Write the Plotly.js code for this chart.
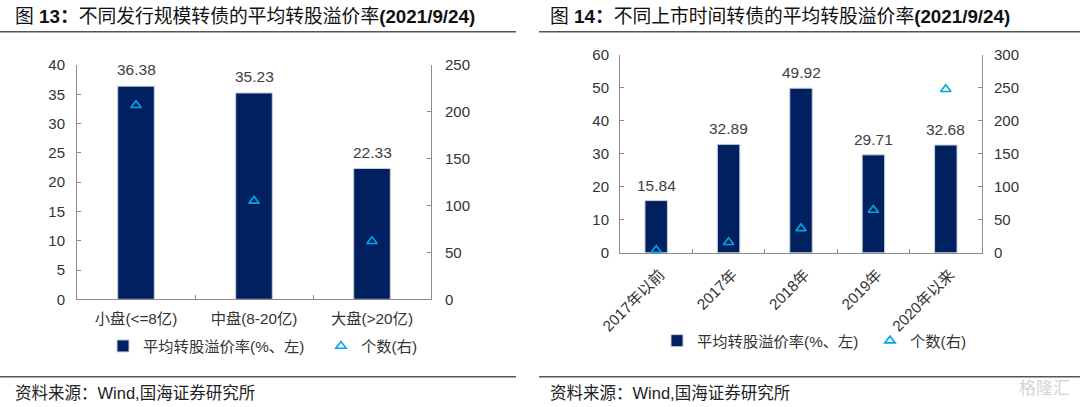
<!DOCTYPE html>
<html>
<head>
<meta charset="utf-8">
<script src="https://cdn.plot.ly/plotly-3.0.1.min.js"></script>
<style>
html,body{margin:0;padding:0;background:#fff;}
#chart{width:1080px;height:407px;}
</style>
</head>
<body>
<div id="chart"></div>
<script>
// Chart 13 data
var sizeCategories = ['小盘(<=8亿)', '中盘(8-20亿)', '大盘(>20亿)'];
var sizePremium = [36.38, 35.23, 22.33];
var sizeCount = [207, 105, 62];

// Chart 14 data
var yearCategories = ['2017年以前', '2017年', '2018年', '2019年', '2020年以来'];
var yearPremium = [15.84, 32.89, 49.92, 29.71, 32.68];
var yearCount = [4, 16, 37, 65, 248];

var barName = '平均转股溢价率(%、左)';
var triName = '个数(右)';

var FONT = 'Liberation Sans, Arial, Noto Sans CJK SC, sans-serif';
var NAVY = '#002060';
var CYAN = '#00A6E6';
var TXT = '#333333';
var AX = '#8c8c8c';

function fmt(v){ return v.toFixed(2); }

var traces = [
  {
    type: 'bar', x: sizeCategories, y: sizePremium, xaxis: 'x', yaxis: 'y',
    name: barName, width: 0.31,
    marker: {color: NAVY, line: {color: '#c8cfdc', width: 1}},
    legend: 'legend'
  },
  {
    type: 'scatter', mode: 'markers', x: sizeCategories, y: sizeCount, xaxis: 'x', yaxis: 'y2',
    name: triName, cliponaxis: false,
    marker: {symbol: 'triangle-up-open', size: 9, color: CYAN, line: {color: CYAN, width: 1.6}},
    legend: 'legend'
  },
  {
    type: 'bar', x: yearCategories, y: yearPremium, xaxis: 'x2', yaxis: 'y3',
    name: barName, width: 0.31,
    marker: {color: NAVY, line: {color: '#c8cfdc', width: 1}},
    legend: 'legend2'
  },
  {
    type: 'scatter', mode: 'markers', x: yearCategories, y: yearCount, xaxis: 'x2', yaxis: 'y4',
    name: triName, cliponaxis: false,
    marker: {symbol: 'triangle-up-open', size: 9, color: CYAN, line: {color: CYAN, width: 1.6}},
    legend: 'legend2'
  }
];

var yCommon = {
  showline: true, linecolor: AX, linewidth: 1,
  ticks: 'inside', ticklen: 4, tickcolor: AX,
  showgrid: false, zeroline: false,
  tickfont: {size: 15, color: TXT, family: FONT},
  fixedrange: true
};
var xCommon = {
  type: 'category', showline: true, linecolor: AX, linewidth: 1,
  ticks: 'inside', tickson: 'boundaries', ticklen: 4, tickcolor: AX,
  showgrid: false, zeroline: false,
  tickfont: {size: 15.3, color: TXT, family: FONT},
  ticklabelstandoff: 5,
  fixedrange: true
};

// value labels above bars, placed through the axes
var labelAnns = [];
sizeCategories.forEach(function(c, i){
  labelAnns.push({xref: 'x', yref: 'y', x: c, y: sizePremium[i], text: fmt(sizePremium[i]),
    showarrow: false, yanchor: 'bottom', yshift: 6, font: {size: 15.5, color: '#404040', family: FONT}});
});
yearCategories.forEach(function(c, i){
  labelAnns.push({xref: 'x2', yref: 'y3', x: c, y: yearPremium[i], text: fmt(yearPremium[i]),
    showarrow: false, yanchor: 'bottom', yshift: 5, font: {size: 15.5, color: '#404040', family: FONT}});
});

var titleFont = {size: 18.8, color: '#111', family: FONT};
var footFont = {size: 16.5, color: '#222', family: FONT};

var layout = {
  width: 1080, height: 407,
  margin: {l: 0, r: 0, t: 0, b: 0, autoexpand: false},
  paper_bgcolor: '#ffffff', plot_bgcolor: 'rgba(0,0,0,0)',
  font: {family: FONT, color: TXT},
  xaxis: Object.assign({}, xCommon, {domain: [77/1080, 431/1080], anchor: 'y'}),
  yaxis: Object.assign({}, yCommon, {domain: [1 - 299.3/407, 1 - 65/407], range: [0, 40], dtick: 5, anchor: 'x', ticklabelstandoff: 8}),
  yaxis2: Object.assign({}, yCommon, {overlaying: 'y', side: 'right', range: [0, 250], dtick: 50, anchor: 'x', ticklabelstandoff: 10}),
  xaxis2: Object.assign({}, xCommon, {domain: [620/1080, 982/1080], anchor: 'y3', tickangle: -45, ticklabelstandoff: 6, ticklabelshift: 4}),
  yaxis3: Object.assign({}, yCommon, {domain: [1 - 252.8/407, 1 - 55/407], range: [0, 60], dtick: 10, anchor: 'x2', ticklabelstandoff: 7}),
  yaxis4: Object.assign({}, yCommon, {overlaying: 'y3', side: 'right', range: [0, 300], dtick: 50, anchor: 'x2', ticklabelstandoff: 8}),
  legend: {
    orientation: 'h', x: 103/1080, xanchor: 'left', y: 1 - 346/407, yanchor: 'middle',
    font: {size: 15.3, color: TXT, family: FONT}, entrywidth: 173, entrywidthmode: 'pixels',
    bgcolor: 'rgba(0,0,0,0)', traceorder: 'normal'
  },
  legend2: {
    orientation: 'h', x: 657/1080, xanchor: 'left', y: 1 - 340.7/407, yanchor: 'middle',
    font: {size: 15.3, color: TXT, family: FONT}, entrywidth: 168, entrywidthmode: 'pixels',
    bgcolor: 'rgba(0,0,0,0)', traceorder: 'normal'
  },
  shapes: [
    {type: 'line', xref: 'paper', yref: 'paper', x0: 0, x1: 516/1080, y0: 1 - 31.7/407, y1: 1 - 31.7/407, line: {color: '#555', width: 1.5}},
    {type: 'line', xref: 'paper', yref: 'paper', x0: 539/1080, x1: 1, y0: 1 - 31.7/407, y1: 1 - 31.7/407, line: {color: '#555', width: 1.5}},
    {type: 'line', xref: 'paper', yref: 'paper', x0: 0, x1: 516/1080, y0: 1 - 376.7/407, y1: 1 - 376.7/407, line: {color: '#555', width: 1.5}},
    {type: 'line', xref: 'paper', yref: 'paper', x0: 539/1080, x1: 1, y0: 1 - 376.7/407, y1: 1 - 376.7/407, line: {color: '#555', width: 1.5}}
  ],
  annotations: labelAnns.concat([
    {xref: 'paper', yref: 'paper', x: 13/1080, y: 1 - 16.5/407, xanchor: 'left', yanchor: 'middle', showarrow: false,
     text: '图 <b>13：</b>不同发行规模转债的平均转股溢价率<b>(2021/9/24)</b>', font: titleFont},
    {xref: 'paper', yref: 'paper', x: 548/1080, y: 1 - 16.5/407, xanchor: 'left', yanchor: 'middle', showarrow: false,
     text: '图 <b>14：</b>不同上市时间转债的平均转股溢价率<b>(2021/9/24)</b>', font: titleFont},
    {xref: 'paper', yref: 'paper', x: 13/1080, y: 1 - 393/407, xanchor: 'left', yanchor: 'middle', showarrow: false,
     text: '资料来源：Wind,国海证券研究所', font: footFont},
    {xref: 'paper', yref: 'paper', x: 548/1080, y: 1 - 393/407, xanchor: 'left', yanchor: 'middle', showarrow: false,
     text: '资料来源：Wind,国海证券研究所', font: footFont},
    {xref: 'paper', yref: 'paper', x: 1072/1080, y: 1 - 388/407, xanchor: 'right', yanchor: 'middle', showarrow: false,
     text: '格隆汇', font: {size: 17, color: '#d4d4d4', family: FONT}}
  ])
};

Plotly.newPlot('chart', traces, layout, {displayModeBar: false, staticPlot: true});
</script>
</body>
</html>
